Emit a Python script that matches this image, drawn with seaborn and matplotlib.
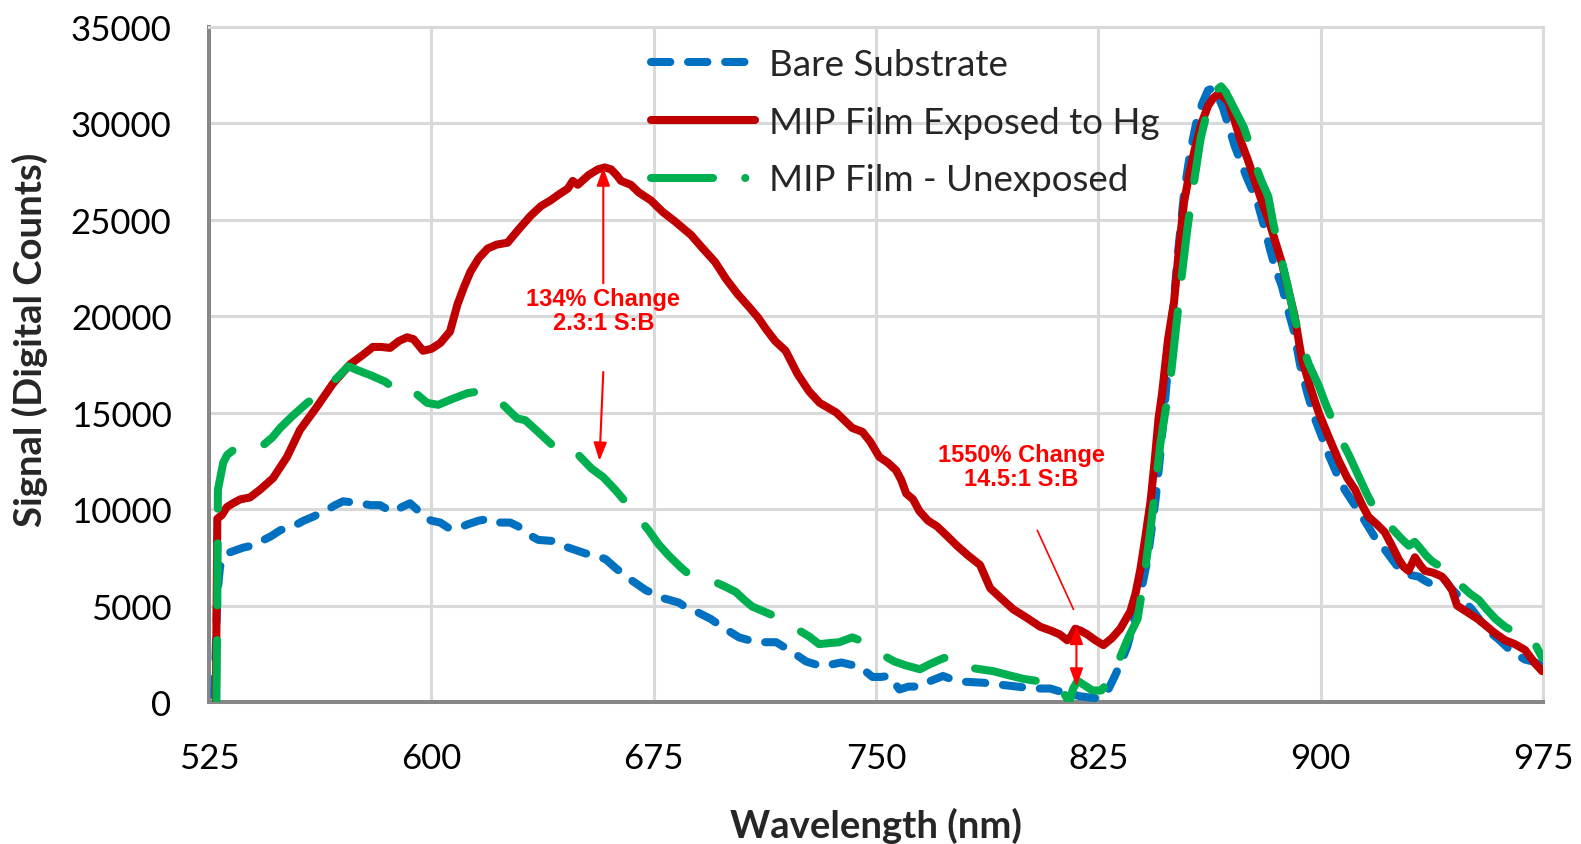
"""
Spectral response of bare substrate vs MIP film (exposed / unexposed to Hg)
"""

import matplotlib
matplotlib.use('Agg')
import matplotlib.pyplot as plt
from matplotlib.lines import Line2D
import seaborn as sns
import pandas as pd

# ---- data (wavelength nm, signal counts) ----
bare_nm = [526.8, 527.8, 528.7, 531, 536.5, 539.5, 542.2, 546, 549, 553.3, 557, 560.1,
           564.8, 567.5, 570.2, 573, 576, 579.5, 582.7, 585, 587.1, 590, 592.8, 595,
           597.2, 600, 603, 606, 609, 612.1, 616, 619.8, 623, 626.6, 629.3, 632.5,
           636.1, 640.5, 643, 646.2, 652, 655.5, 658.8, 662.1, 665, 667.6, 672.3, 677.8,
           683.5, 686, 689.2, 694.3, 698, 703.8, 709.5, 716.3, 719, 721.7, 726.4, 731.8,
           735, 738.3, 741, 744.4, 748.8, 751.5, 754.5, 757.9, 761, 764.8, 768.5, 772.6,
           776, 780, 786.2, 792, 797.6, 803, 808.8, 813, 816, 818.9, 821.3, 824, 826.7,
           828.5, 830.1, 832.5, 834.8, 836.5, 838.2, 840, 841.6, 843, 844.3, 846, 848,
           850, 852, 854, 856, 858, 860, 862, 863.5, 865, 867, 869, 871, 873, 875, 877,
           879, 881, 883, 884.8, 886.8, 889, 891, 893, 895.5, 898, 900.5, 902.7, 905.5,
           908.1, 911.5, 914.8, 918, 921.6, 925.5, 929.7, 933, 935, 937.5, 941.5, 944.2,
           946.5, 948.6, 951, 953, 955.4, 958, 960, 964.5, 968.9, 971.5, 974.7]
bare_sig = [300, 5500, 7000, 7700, 8000, 8100, 8300, 8600, 8900, 9100, 9400, 9600,
            9950, 10200, 10400, 10350, 10300, 10200, 10200, 10000, 9850, 10100, 10300, 10000,
            9600, 9400, 9300, 9000, 9000, 9200, 9400, 9500, 9300, 9300, 9100, 8700,
            8400, 8350, 8200, 8000, 7700, 7600, 7400, 6950, 6600, 6300, 5800, 5400,
            5150, 4900, 4700, 4300, 3900, 3350, 3100, 3100, 2850, 2600, 2100, 1850,
            1950, 2050, 1950, 1850, 1300, 1300, 1350, 650, 800, 800, 1100, 1350,
            1150, 1050, 1000, 900, 800, 700, 700, 500, 400, 300, 250, 200, 300,
            700, 1200, 2000, 2900, 3900, 5000, 6200, 7400, 9000, 10500, 13000, 16500,
            20000, 23500, 26500, 28500, 30000, 31000, 31700, 31800, 31500, 30800, 29800, 28800, 28000, 27200, 26500,
            25700, 24600, 23400, 22400, 21600, 20300, 19200, 17500, 16000, 14700, 13700, 12800, 11800,
            11000, 10200, 9400, 8600, 7900, 7100, 6600, 6500, 6300, 6100, 6400, 5850,
            5500, 5200, 4800, 4400, 3900, 3500, 3250, 2600, 2200, 2100, 1900]

exposed_nm = [527.3, 527.8, 529.4, 531, 533.1, 535.5, 538.8, 542.2, 546.6, 551.3, 555.7,
              561.4, 566.8, 572.6, 577, 580.3, 583, 586.1, 589, 591.8, 594, 597.2, 600,
              603, 606.3, 608.8, 611, 613.2, 616, 619, 622, 625.7, 629.5, 633.5, 637,
              640.3, 643, 646, 647.7, 649.4, 653, 656.2, 658.5, 660.6, 662.5, 664, 667.3,
              670, 674, 678, 682.2, 687.6, 691, 695.7, 699.5, 703.5, 707, 710.3, 713, 716,
              719.5, 723.5, 727.4, 731, 736.6, 742, 745.4, 748, 751.1, 754, 756.8, 758.5,
              760.2, 762.5, 764.6, 767.5, 770.6, 774, 777.3, 781, 785.1, 788.5, 792, 796.3,
              800.5, 805.4, 809, 812, 814.5, 815.8, 817.2, 819, 821.3, 824, 826.7, 829.5,
              832.4, 835.8, 837.5, 839.2, 840.9, 842.6, 844, 845.3, 846.5, 848.5, 850.5,
              852.2, 853.9, 855.6, 857.3, 859.6, 862, 863.8, 865.4, 867, 868.8, 871, 873.2,
              875.4, 877.6, 880, 882.4, 884.6, 886.8, 889, 891.2, 893.6, 896.5, 899.3, 902.5,
              906.1, 909, 911.6, 914, 916.1, 919, 921.6, 924, 926.3, 928, 929.6, 931.8,
              933.5, 935.1, 938, 940.9, 942.5, 944.3, 946, 948, 950, 953, 955.4, 958.5,
              962.2, 965.5, 968.9, 972.3, 974.7]
exposed_sig = [0, 9500, 9700, 10100, 10300, 10500, 10600, 11000, 11600, 12700, 14100,
               15300, 16500, 17500, 18000, 18400, 18400, 18350, 18700, 18900, 18800, 18200, 18300,
               18600, 19200, 20600, 21500, 22300, 23000, 23500, 23700, 23800, 24500, 25200, 25700,
               26000, 26300, 26600, 27000, 26800, 27300, 27600, 27700, 27600, 27300, 27000, 26800,
               26400, 26000, 25400, 24900, 24200, 23600, 22800, 21900, 21100, 20500, 19900, 19300, 18700,
               18200, 17000, 16100, 15500, 15000, 14200, 14000, 13500, 12700, 12400, 12000, 11500,
               10800, 10500, 9900, 9400, 9100, 8600, 8100, 7600, 7100, 5900, 5400, 4800,
               4400, 3900, 3700, 3500, 3200, 3400, 3800, 3700, 3500, 3200, 2950, 3300,
               3800, 4700, 5600, 6900, 8600, 10400, 12500, 14700, 16000, 18800, 20700,
               23500, 25900, 27300, 28500, 29900, 30900, 31300, 31500, 31400, 31100, 30100, 29000,
               28100, 27100, 26000, 25000, 23900, 22800, 21400, 20000, 17800, 16300, 15000, 13800,
               12500, 11600, 11000, 10200, 9600, 9200, 8800, 8100, 7400, 7000, 6800, 7500,
               7100, 6800, 6700, 6500, 6200, 5800, 5000, 4800, 4600, 4300, 4000, 3600,
               3200, 3000, 2700, 2000, 1600]

unexposed_nm = [527.5, 527.8, 528, 529.8, 531.1, 534.4, 538.8, 543.2, 546.3, 549, 553, 558.1,
                563.5, 568.2, 572, 575, 580, 584.4, 587.1, 589.5, 593.9, 598.6, 602.3, 607,
                612.1, 616, 619.8, 624.2, 628.9, 631.7, 636, 640.2, 643, 646.2, 649, 654, 658,
                662, 665.9, 669.5, 673.3, 676.5, 680, 684, 688.5, 692, 696, 699.5, 702.7, 705.5,
                708.2, 712, 716.6, 722, 727.4, 730.8, 734, 737.6, 742, 744.5, 747, 751.5, 756.2,
                760, 764.8, 768, 771.6, 775, 778, 780.7, 785, 789.5, 794.5, 799.7, 804, 808.5,
                812, 815.2, 816.5, 818, 820, 823, 826, 829, 832, 835, 838.2, 840.5, 843, 846,
                849.3, 852.9, 855, 857.3, 859.5, 862, 864, 866.4, 868, 870, 872, 874, 876, 878,
                880, 882.3, 884, 886, 888.8, 891.2, 893.5, 896, 899.3, 901.5, 903.7, 906.5,
                909.5, 912.8, 915.5, 918.2, 921, 924, 927, 929.7, 931.7, 933.4, 935.5, 937.5,
                940.5, 943.2, 945.5, 947.6, 950.5, 953.3, 956, 959, 962.2, 964.5, 966.8, 969,
                971.2, 973, 974.7]
unexposed_sig = [0, 5000, 11000, 12400, 12800, 13200, 13450, 13300, 13700, 14200, 14800, 15500,
                 16100, 16800, 17400, 17200, 16900, 16600, 16300, 16500, 16100, 15500, 15400, 15700,
                 16000, 16100, 16000, 15400, 14700, 14600, 14000, 13400, 13000, 12700, 12900, 12100, 11650,
                 11000, 10300, 9600, 8900, 8200, 7600, 7000, 6400, 6250, 6200, 5950, 5700, 5300,
                 4950, 4700, 4400, 3900, 3400, 3000, 3050, 3100, 3350, 3200, 2900, 2500, 2100,
                 1900, 1700, 1950, 2200, 2400, 2100, 1800, 1700, 1600, 1400, 1200, 1100, 900,
                 800, 0, 700, 1100, 900, 600, 600, 1200, 2200, 3300, 4300, 6500, 9500, 13500,
                 16700, 21800, 24500, 27000, 29200, 30800, 31600, 31900, 31600, 31000, 30400, 29800, 28900, 27800,
                 27000, 26200, 24800, 23400, 21600, 19900, 18600, 17500, 16400, 15500, 14700, 13700,
                 12800, 11700, 10800, 10000, 9500, 9000, 8500, 8100, 8300, 8000, 7600, 7300,
                 7000, 6700, 6300, 6000, 5600, 5300, 4800, 4300, 3900, 3700, 3600, 3450,
                 3300, 2800, 2300]

series_labels = ['Bare Substrate', 'MIP Film Exposed to Hg', 'MIP Film - Unexposed']
series_colors = ['#0070C0', '#C00000', '#00B050']
x_ticks = [525, 600, 675, 750, 825, 900, 975]
y_ticks = [0, 5000, 10000, 15000, 20000, 25000, 30000, 35000]

# annotation values
ann1_text = '134% Change\n2.3:1 S:B'
ann1_pos = (658, 20300)
ann1_up = ((658, 21700), (658, 27700))
ann1_down = ((658, 17100), (656.7, 12500))
ann2_text = '1550% Change\n14.5:1 S:B'
ann2_pos = (799, 12200)
ann2_line = ((804.4, 8900), (816.6, 4800))
ann2_span = ((817.6, 800), (817.6, 3950))


def create_spectra_chart():
    sns.set_theme(style='white')
    plt.rcParams['font.family'] = ['Lato', 'DejaVu Sans']

    fig = plt.figure(figsize=(15.81, 8.45), dpi=100)
    ax = fig.add_axes([0.1322, 0.168, 0.8438, 0.7994])

    lw = 5.8
    dash_styles = [(0, (2.4, 2.2)), '-', (0, (7.7, 4.3))]
    frames = [
        pd.DataFrame({'nm': bare_nm, 'signal': bare_sig}),
        pd.DataFrame({'nm': exposed_nm, 'signal': exposed_sig}),
        pd.DataFrame({'nm': unexposed_nm, 'signal': unexposed_sig}),
    ]
    for df, color, ls in zip(frames, series_colors, dash_styles):
        sns.lineplot(data=df, x='nm', y='signal', ax=ax, color=color, linewidth=lw,
                     linestyle=ls, estimator=None, sort=False,
                     dash_capstyle='round', solid_capstyle='round',
                     solid_joinstyle='round', zorder=3)

    ax.set_xlim(525, 975)
    ax.set_ylim(0, 35000)
    ax.set_xticks(x_ticks)
    ax.set_yticks(y_ticks)
    ax.tick_params(axis='both', length=0, labelsize=25, colors='black')
    ax.tick_params(axis='y', pad=27)
    ax.tick_params(axis='x', pad=29)

    ax.grid(True, color='#D9D9D9', linewidth=2.2)
    ax.set_axisbelow(True)
    for side in ['left', 'bottom']:
        ax.spines[side].set_color('#878787')
        ax.spines[side].set_linewidth(2.9)
    for side in ['top', 'right']:
        ax.spines[side].set_color('#D9D9D9')
        ax.spines[side].set_linewidth(2.2)

    ax.set_xlabel('Wavelength (nm)', fontsize=27.5, fontweight='bold')
    ax.set_ylabel('Signal (Digital Counts)', fontsize=27.5, fontweight='bold')
    ax.xaxis.set_label_coords(0.5, -0.155)
    ax.yaxis.set_label_coords(-0.121, 0.537)

    # legend with Excel-like samples
    handles = [
        Line2D([], [], color=series_colors[0], lw=lw, linestyle=(0, (2.4, 2.2)), dash_capstyle='round'),
        Line2D([], [], color=series_colors[1], lw=lw, solid_capstyle='round'),
        Line2D([], [], color=series_colors[2], lw=lw, linestyle=(0, (7.7, 4.0, 0.01, 4.0)),
               dash_capstyle='round'),
    ]
    ax.legend(handles, series_labels, loc='upper left', bbox_to_anchor=(0.331, 0.968),
              frameon=False, fontsize=26.5, handlelength=2.85, handletextpad=0.38,
              labelspacing=0.67, borderpad=0, borderaxespad=0)

    # annotations
    txt = dict(color='red', fontweight='bold', fontsize=17, ha='center', va='center',
               family=['Liberation Sans', 'DejaVu Sans'], linespacing=1.05, zorder=5)
    head = '-|>,head_length=0.55,head_width=0.2'
    ax.text(*ann1_pos, ann1_text, **txt)
    ax.annotate('', xy=ann1_up[1], xytext=ann1_up[0],
                arrowprops=dict(arrowstyle=head, color='red', lw=1.5, mutation_scale=20,
                                shrinkA=0, shrinkB=0), zorder=5)
    ax.annotate('', xy=ann1_down[1], xytext=ann1_down[0],
                arrowprops=dict(arrowstyle=head, color='red', lw=1.5, mutation_scale=20,
                                shrinkA=0, shrinkB=0), zorder=5)
    ax.text(*ann2_pos, ann2_text, **txt)
    ax.annotate('', xy=ann2_line[1], xytext=ann2_line[0],
                arrowprops=dict(arrowstyle='-', color='red', lw=1.2, shrinkA=0, shrinkB=0),
                zorder=5)
    ax.annotate('', xy=ann2_span[1], xytext=ann2_span[0],
                arrowprops=dict(arrowstyle='<|-|>,head_length=0.55,head_width=0.2', color='red',
                                lw=1.5, mutation_scale=20, shrinkA=0, shrinkB=0), zorder=5)

    fig.savefig('out.png', dpi=100)
    plt.close(fig)
    return 'out.png'


if __name__ == '__main__':
    create_spectra_chart()
